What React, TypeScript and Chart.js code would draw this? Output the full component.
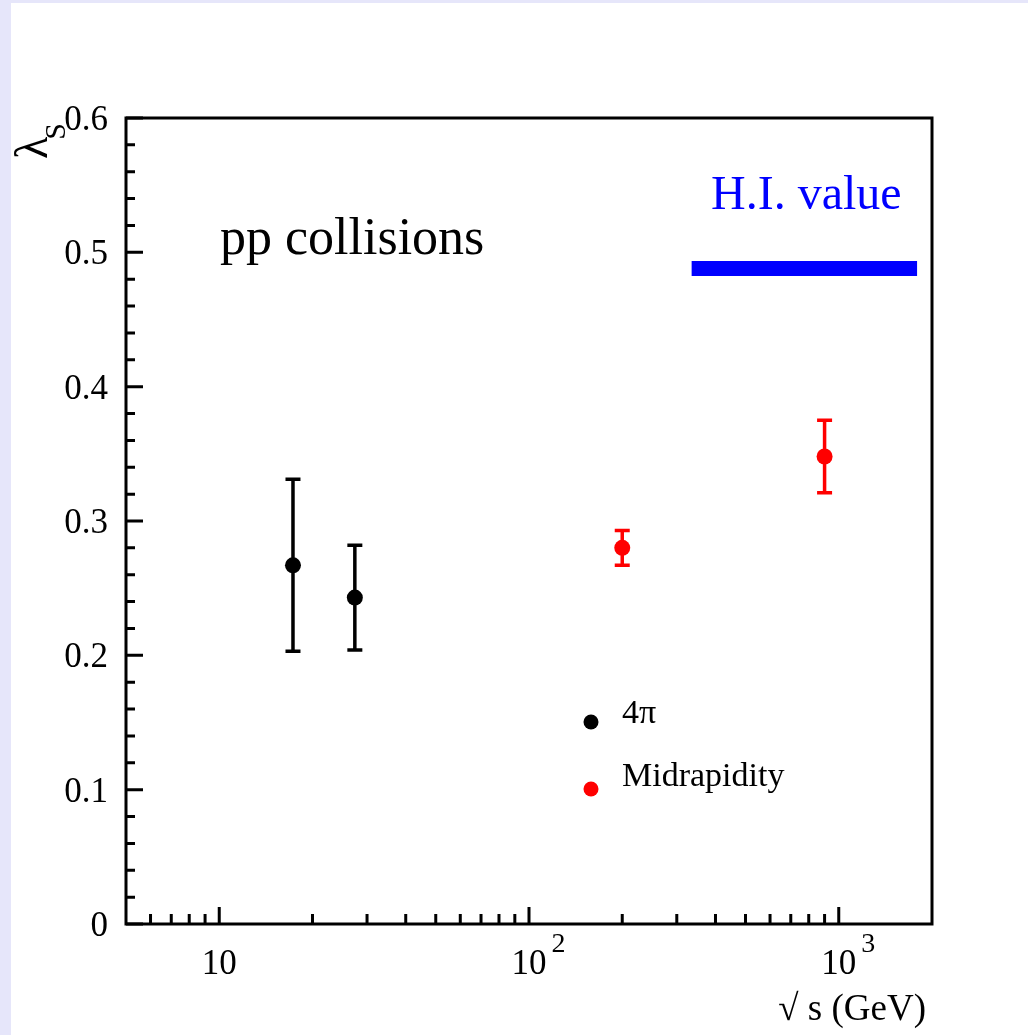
import React, { useEffect, useRef } from 'react';
import { Chart, registerables } from 'chart.js';

Chart.register(...registerables);

// ---- data ----
const energies4pi = [17.3, 27.4];
const lambda4pi = [0.267, 0.243];
const err4pi = [0.064, 0.039];

const energiesMid = [200, 900];
const lambdaMid = [0.28, 0.348];
const errMid = [0.013, 0.027];

const hiRange = [335, 1790];
const hiValue = 0.488;

// ---- axes ----
const xMin = 5;
const xMax = 2000;
const yMin = 0;
const yMax = 0.6;

const xMajorTicks = [10, 100, 1000];
const xMajorExp = ['', '2', '3'];
const xMinorTicks = [6, 7, 8, 9, 20, 30, 40, 50, 60, 70, 80, 90, 200, 300, 400, 500, 600, 700, 800, 900];

const yMajorTicks = [0, 0.1, 0.2, 0.3, 0.4, 0.5, 0.6];
const yMajorLabels = ['0', '0.1', '0.2', '0.3', '0.4', '0.5', '0.6'];
const yMinorTicks = [
  0.02, 0.04, 0.06, 0.08, 0.12, 0.14, 0.16, 0.18, 0.22, 0.24, 0.26, 0.28,
  0.32, 0.34, 0.36, 0.38, 0.42, 0.44, 0.46, 0.48, 0.52, 0.54, 0.56, 0.58,
];

const legendLabels = ['4\u03c0', 'Midrapidity'];
const legendColors = ['#000000', '#ff0000'];

const SERIF = '"Liberation Serif", "Times New Roman", Times, serif';
const CANVAS_W = 1017;
const CANVAS_H = 1032;

const decorPlugin = {
  id: 'decor',
  beforeDatasetsDraw(chart: any) {
    const ctx = chart.ctx;
    const xs = chart.scales.x;
    const ys = chart.scales.y;
    const drawErr = (xv: number, yv: number, ev: number, color: string) => {
      const px = xs.getPixelForValue(xv);
      const pt = ys.getPixelForValue(yv + ev);
      const pb = ys.getPixelForValue(yv - ev);
      ctx.save();
      ctx.strokeStyle = color;
      ctx.lineWidth = 3.5;
      ctx.beginPath();
      ctx.moveTo(px, pt);
      ctx.lineTo(px, pb);
      ctx.moveTo(px - 7.5, pt);
      ctx.lineTo(px + 7.5, pt);
      ctx.moveTo(px - 7.5, pb);
      ctx.lineTo(px + 7.5, pb);
      ctx.stroke();
      ctx.restore();
    };
    energies4pi.forEach((e, i) => drawErr(e, lambda4pi[i], err4pi[i], '#000000'));
    energiesMid.forEach((e, i) => drawErr(e, lambdaMid[i], errMid[i], '#ff0000'));
  },
  afterDraw(chart: any) {
    const ctx = chart.ctx;
    const xs = chart.scales.x;
    const ys = chart.scales.y;
    const a = chart.chartArea;
    ctx.save();
    // frame
    ctx.strokeStyle = '#000';
    ctx.lineWidth = 3;
    ctx.strokeRect(a.left, a.top, a.right - a.left, a.bottom - a.top);

    // y ticks (inward, left axis)
    ctx.beginPath();
    yMajorTicks.forEach((v) => {
      const py = ys.getPixelForValue(v);
      ctx.moveTo(a.left, py);
      ctx.lineTo(a.left + 17, py);
    });
    yMinorTicks.forEach((v) => {
      const py = ys.getPixelForValue(v);
      ctx.moveTo(a.left, py);
      ctx.lineTo(a.left + 9, py);
    });
    // x ticks (inward, bottom axis)
    xMajorTicks.forEach((v) => {
      const px = xs.getPixelForValue(v);
      ctx.moveTo(px, a.bottom);
      ctx.lineTo(px, a.bottom - 17);
    });
    xMinorTicks.forEach((v) => {
      const px = xs.getPixelForValue(v);
      ctx.moveTo(px, a.bottom);
      ctx.lineTo(px, a.bottom - 10);
    });
    ctx.stroke();

    // y labels
    ctx.fillStyle = '#000';
    ctx.font = `35px ${SERIF}`;
    ctx.textAlign = 'right';
    ctx.textBaseline = 'alphabetic';
    yMajorTicks.forEach((v, i) => {
      const py = ys.getPixelForValue(v);
      ctx.fillText(yMajorLabels[i], a.left - 18, py + 12);
    });

    // x labels
    xMajorTicks.forEach((v, i) => {
      const px = xs.getPixelForValue(v);
      ctx.font = `35px ${SERIF}`;
      ctx.textAlign = 'center';
      ctx.fillText('10', px, a.bottom + 50);
      if (xMajorExp[i]) {
        const w = ctx.measureText('10').width;
        ctx.font = `28px ${SERIF}`;
        ctx.textAlign = 'left';
        ctx.fillText(xMajorExp[i], px + w / 2 + 5, a.bottom + 28);
      }
    });

    // x title
    ctx.font = `37px ${SERIF}`;
    ctx.textAlign = 'right';
    ctx.fillText('\u221a s (GeV)', a.right - 6, a.bottom + 96);

    // y title (rotated lambda_S)
    ctx.save();
    ctx.translate(a.left - 79, a.top + 41);
    ctx.rotate(-Math.PI / 2);
    ctx.textAlign = 'left';
    ctx.font = `46px ${SERIF}`;
    ctx.fillText('\u03bb', 0, 0);
    const lw = ctx.measureText('\u03bb').width;
    ctx.font = `30px ${SERIF}`;
    ctx.fillText('S', lw - 3, 18);
    ctx.restore();

    // annotations
    ctx.textAlign = 'left';
    ctx.font = `52px ${SERIF}`;
    ctx.fillStyle = '#000';
    ctx.fillText('pp collisions', a.left + 94, a.top + 136);
    ctx.font = `48px ${SERIF}`;
    ctx.fillStyle = '#0000ff';
    ctx.fillText('H.I. value', a.left + 585, a.top + 91);

    // legend
    const lx = a.left + 465;
    const ly = [a.top + 604, a.top + 671];
    const ty = [a.top + 605, a.top + 668];
    ctx.font = `34px ${SERIF}`;
    legendLabels.forEach((lab, i) => {
      ctx.fillStyle = legendColors[i];
      ctx.beginPath();
      ctx.arc(lx, ly[i], 7.5, 0, Math.PI * 2);
      ctx.fill();
      ctx.fillStyle = '#000';
      ctx.fillText(lab, lx + 31, ty[i]);
    });
    ctx.restore();
  },
};

export default function App() {
  const ref = useRef<HTMLCanvasElement | null>(null);
  useEffect(() => {
    if (!ref.current) return;
    const chart = new Chart(ref.current, {
      type: 'scatter',
      data: {
        datasets: [
          {
            label: 'H.I. value',
            type: 'line',
            data: [
              { x: hiRange[0], y: hiValue },
              { x: hiRange[1], y: hiValue },
            ],
            borderColor: '#0000ff',
            borderWidth: 15,
            borderCapStyle: 'butt',
            pointRadius: 0,
            fill: false,
          } as any,
          {
            label: '4\u03c0',
            data: energies4pi.map((e, i) => ({ x: e, y: lambda4pi[i] })),
            backgroundColor: '#000000',
            pointBackgroundColor: '#000000',
            pointBorderWidth: 0,
            pointRadius: 8,
          },
          {
            label: 'Midrapidity',
            data: energiesMid.map((e, i) => ({ x: e, y: lambdaMid[i] })),
            backgroundColor: '#ff0000',
            pointBackgroundColor: '#ff0000',
            pointBorderWidth: 0,
            pointRadius: 8,
          },
        ],
      },
      options: {
        responsive: false,
        animation: false,
        devicePixelRatio: 1,
        layout: { padding: { left: 115, top: 115, right: 96, bottom: 111 } },
        plugins: { legend: { display: false }, tooltip: { enabled: false } },
        scales: {
          x: { type: 'logarithmic', min: xMin, max: xMax, display: false },
          y: { type: 'linear', min: yMin, max: yMax, display: false },
        },
      },
      plugins: [decorPlugin],
    });
    return () => chart.destroy();
  }, []);

  return (
    <div
      style={{
        position: 'absolute',
        left: 0,
        top: 0,
        width: 1028,
        height: 1035,
        background: '#e6e6fa',
        overflow: 'hidden',
      }}
    >
      <canvas
        ref={ref}
        width={CANVAS_W}
        height={CANVAS_H}
        style={{
          position: 'absolute',
          left: 11,
          top: 3,
          width: CANVAS_W,
          height: CANVAS_H,
          background: '#ffffff',
        }}
      />
    </div>
  );
}
